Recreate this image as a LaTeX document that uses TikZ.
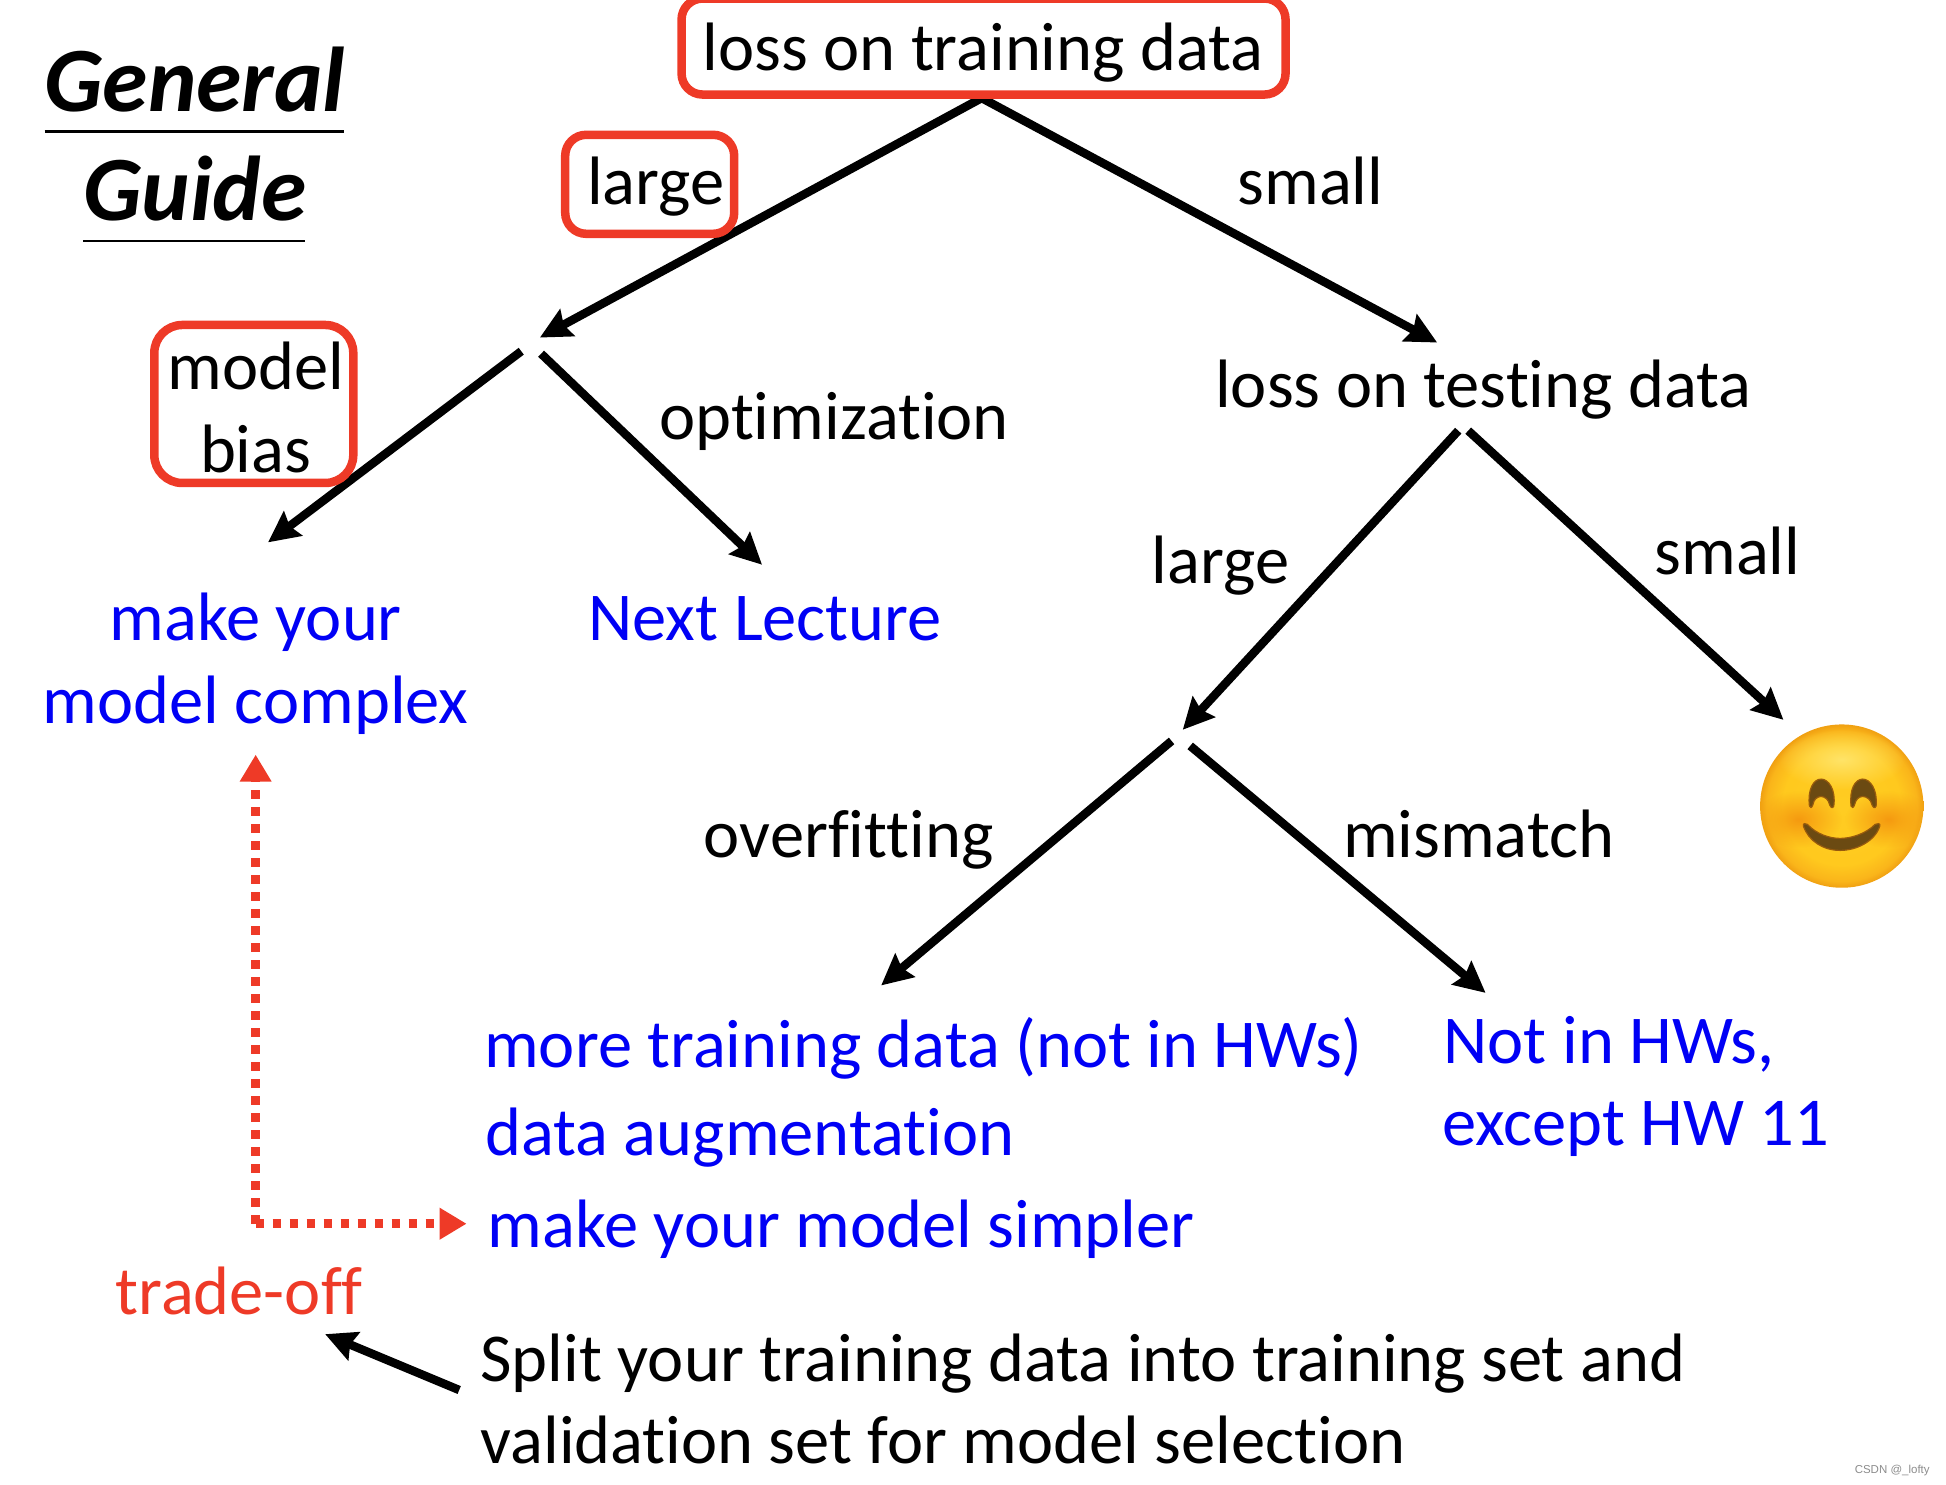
\documentclass[tikz,border=0pt]{standalone}
\usepackage{fontspec}
\setmainfont[RawFeature={-liga;-clig;-dlig}]{Carlito}
\newfontfamily\markfont{Liberation Sans}
\usetikzlibrary{arrows.meta,fadings}
\definecolor{slidered}{HTML}{EE3A27}
\definecolor{slideblue}{HTML}{0000F5}
\definecolor{cheek}{HTML}{F59A10}
\definecolor{gloss}{HTML}{FFE468}
\definecolor{smilebrown}{HTML}{6B4A12}
\definecolor{faceA}{HTML}{FFCC22}
\definecolor{faceB}{HTML}{FFC91E}
\definecolor{faceC}{HTML}{FAB51A}
\definecolor{faceD}{HTML}{F0A012}
\newcommand{\bodyfont}{\fontsize{68.5}{80}\selectfont}
\pgfdeclareradialshading{smileyface}{\pgfpointorigin}{color(0bp)=(faceA); color(18bp)=(faceB); color(23bp)=(faceC); color(25bp)=(faceD); color(50bp)=(faceD)}
\tikzfading[name=softblob,inner color=transparent!0,outer color=transparent!100]
\tikzset{
  lbl/.style={inner sep=0pt,anchor=base west,font=\bodyfont,text=black},
  lblc/.style={lbl,anchor=base},
  act/.style={lbl,text=slideblue},
  actc/.style={lblc,text=slideblue},
  tradeoff/.style={lbl,text=slidered},
  title/.style={inner sep=0pt,anchor=base,font=\fontsize{92}{100}\selectfont\bfseries\itshape},
  redbox/.style={draw=slidered,line width=8.5pt,rounded corners=21pt,inner sep=0pt,fill=none},
  branch/.style={draw=black,line width=8.5pt,-{Stealth[length=31pt,width=30pt,inset=4pt]}},
  tradeline/.style={draw=slidered,line width=9pt,dash pattern=on 8.5pt off 8.5pt,-{Triangle[length=27pt,width=30pt,fill=slidered]}},
  rule/.style={draw=black,line width=2.5pt},
  smileink/.style={fill=smilebrown,draw=smilebrown!70!orange,line width=1.2pt},
}
\begin{document}
\begin{tikzpicture}[x=1.24107pt,y=-1.24107pt]
\useasboundingbox (0,0) rectangle (1568,1195.74);
% anchors of the connectors
\coordinate (rootS) at (791,79);
\coordinate (n1in) at (435,272);
\coordinate (n1l) at (420,283);
\coordinate (n1r) at (436,285);
\coordinate (mcTop) at (216,437);
\coordinate (nlTop) at (614,455);
\coordinate (ltIn) at (1158,276);
\coordinate (ltl) at (1175,347);
\coordinate (ltr) at (1183,347);
\coordinate (n2in) at (953,588);
\coordinate (smTop) at (1437,580);
\coordinate (n2l) at (944,597);
\coordinate (n2r) at (959,601);
\coordinate (mtTop) at (710,794);
\coordinate (niTop) at (1197,800);
\coordinate (splitW) at (370,1120);
\coordinate (toTop) at (262,1075);
\coordinate (tradeUp) at (206,608);
\coordinate (tradeCorner) at (206,986);
\coordinate (tradeRight) at (376,986);
\coordinate (g1a) at (36,106);
\coordinate (g1b) at (277,106);
\coordinate (g2a) at (67,194);
\coordinate (g2b) at (246,194);
% connectors
\draw[branch] (rootS) -- (n1in);
\draw[branch] (rootS) -- (ltIn);
\draw[branch] (n1l) -- (mcTop);
\draw[branch] (n1r) -- (nlTop);
\draw[branch] (ltl) -- (n2in);
\draw[branch] (ltr) -- (smTop);
\draw[branch] (n2l) -- (mtTop);
\draw[branch] (n2r) -- (niTop);
\draw[branch] (splitW) -- (toTop);
\draw[tradeline] (tradeCorner) -- (tradeUp);
\draw[tradeline] (tradeCorner) -- (tradeRight);
% title
\node[title] (tGeneral) at (157,89.5) {General};
\draw[rule] (g1a) -- (g1b);
\node[title] (tGuide) at (157,177.5) {Guide};
\draw[rule] (g2a) -- (g2b);
% red boxes
\node[redbox,minimum width=604pt,minimum height=96pt] (boxRoot) at (792.5,37.5) {};
\node[redbox,minimum width=169pt,minimum height=99pt] (boxLarge) at (523.5,148.5) {};
\node[redbox,rounded corners=28pt,minimum width=199pt,minimum height=158pt] (boxBias) at (204.5,325.5) {};
% texts
\node[lbl] (root) at (566,57) {loss on training data};
\node[lbl] (large1) at (473,165) {large};
\node[lbl] (small1) at (997,165) {small};
\node[lblc] (model) at (206,314) {model};
\node[lblc] (bias) at (206,381) {bias};
\node[lbl] (optim) at (531,354) {optimization};
\node[lbl] (ltest) at (979,328) {loss on testing data};
\node[lbl] (large2) at (928,470) {large};
\node[lbl] (small2) at (1333,463) {small};
\node[actc] (mc1) at (206,516) {make your};
\node[actc] (mc2) at (206,583) {model complex};
\node[act] (next) at (474,516) {Next Lecture};
\node[lbl] (over) at (567,691) {overfitting};
\node[lbl] (mism) at (1082,691) {mismatch};
\node[act] (mt) at (390,860) {more training data (not in HWs)};
\node[act] (da) at (391,931) {data augmentation};
\node[act] (ms) at (393,1005) {make your model simpler};
\node[act] (ni1) at (1163,857) {Not in HWs,};
\node[act] (ni2) at (1162,923) {except HW 11};
\node[tradeoff] (trade) at (93,1059) {trade-off};
\node[lbl] (split1) at (387,1113) {Split your training data into training set and};
\node[lbl] (split2) at (387,1179) {validation set for model selection};
\node[inner sep=0pt,anchor=base east,font=\markfont\fontsize{11.5}{12}\selectfont,text=black!45] (wm) at (1555,1187) {CSDN @\_lofty};
% smiley
\begin{scope}[shift={(1484,649.5)},x=.3333pt,y=-.3333pt]
\path[shading=smileyface] (0,0) circle [radius=245];
\begin{scope}
\clip (0,0) circle [radius=238];
\fill[cheek,path fading=softblob] (-130,40) ellipse [x radius=130,y radius=85];
\fill[cheek,path fading=softblob] (140,40) ellipse [x radius=130,y radius=85];
\fill[gloss,path fading=softblob] (0,-140) ellipse [x radius=190,y radius=90];
\end{scope}
\path[smileink] (-97,0) .. controls (-103,-50) and (-85,-81) .. (-62,-81) .. controls (-40,-81) and (-17,-50) .. (-24,0) .. controls (-28,8) and (-32,5) .. (-36,-3) .. controls (-40,-20) and (-50,-28) .. (-62,-29) .. controls (-75,-28) and (-84,-20) .. (-87,-3) .. controls (-90,6) and (-95,6) .. (-97,0) -- cycle;
\path[smileink] (28,0) .. controls (22,-50) and (40,-81) .. (63,-81) .. controls (85,-81) and (108,-50) .. (103,0) .. controls (99,8) and (95,5) .. (91,-3) .. controls (87,-20) and (76,-28) .. (63,-29) .. controls (50,-28) and (42,-20) .. (38,-3) .. controls (35,6) and (30,6) .. (28,0) -- cycle;
\path[smileink] (-115,60) .. controls (-118,52) and (-108,50) .. (-103,55) .. controls (-75,85) and (-35,97) .. (-5,97) .. controls (25,97) and (70,85) .. (100,55) .. controls (105,50) and (118,52) .. (114,60) .. controls (100,105) and (45,133) .. (-5,133) .. controls (-55,133) and (-100,105) .. (-115,60) -- cycle;
\end{scope}
\end{tikzpicture}
\end{document}
